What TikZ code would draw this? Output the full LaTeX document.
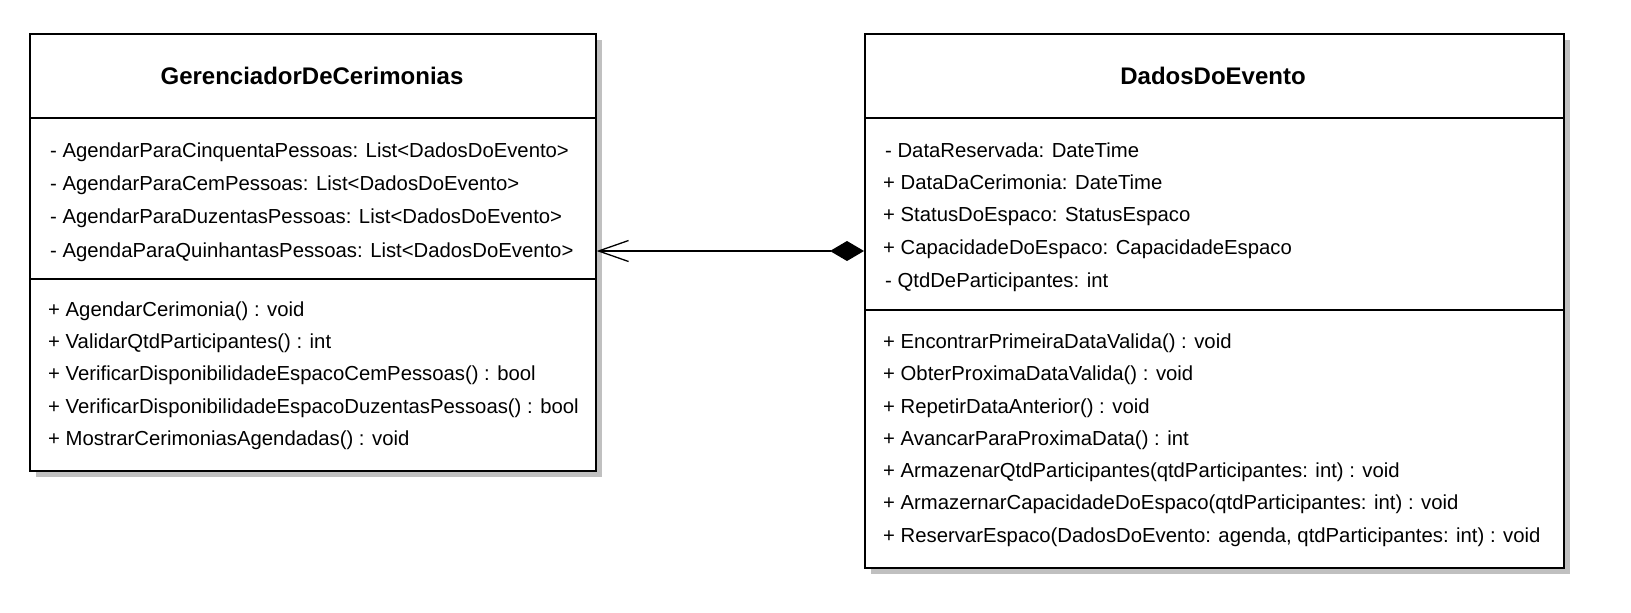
\documentclass[tikz,border=0pt]{standalone}
\usepackage{fontspec}
\setmainfont{Liberation Sans}
\usetikzlibrary{arrows.meta,positioning}

\definecolor{shadowgray}{RGB}{192,192,192}
\tikzset{
  classbox/.style={draw=black, line width=1.6pt, fill=white, anchor=north west},
  classname/.style={font=\fontsize{24}{28}\selectfont\bfseries},
  member/.style={anchor=west, text height=18pt, text depth=4pt, font=\fontsize{20.3}{24}\selectfont},
  assoc/.style={line width=1.4pt, {Straight Barb[length=30pt,width=21pt,line width=1.3pt]}-{Diamond[length=34pt,width=20pt]}}
}

\begin{document}
\begin{tikzpicture}[x=1pt,y=-1pt]
\tikzstyle{every node}+=[inner sep=0pt]
\useasboundingbox (0,0) rectangle (1631,613);
% shadows
\fill [shadowgray] (36,40) rectangle (602,477);
\fill [shadowgray] (871,40) rectangle (1570,574);
% GerenciadorDeCerimonias
\node [classbox, minimum width=566pt, minimum height=437pt] (ger) at (29,33) {};
\draw [line width=1.6pt] (ger.west |- 0,118) -- (ger.east |- 0,118);
\draw [line width=1.6pt] (ger.west |- 0,279) -- (ger.east |- 0,279);
\node [classname] (gerTitle) at (312,76) {GerenciadorDeCerimonias};
\node [member] (gerA1) at (50,150) {- AgendarParaCinquentaPessoas: List<DadosDoEvento>};
\node [member] (gerA2) at (50,183) {- AgendarParaCemPessoas: List<DadosDoEvento>};
\node [member] (gerA3) at (50,216) {- AgendarParaDuzentasPessoas: List<DadosDoEvento>};
\node [member] (gerA4) at (50,250) {- AgendaParaQuinhantasPessoas: List<DadosDoEvento>};
\node [member] (gerM1) at (48,309) {+ AgendarCerimonia() : void};
\node [member] (gerM2) at (48,341) {+ ValidarQtdParticipantes() : int};
\node [member] (gerM3) at (48,373) {+ VerificarDisponibilidadeEspacoCemPessoas() : bool};
\node [member] (gerM4) at (48,406) {+ VerificarDisponibilidadeEspacoDuzentasPessoas() : bool};
\node [member] (gerM5) at (48,438) {+ MostrarCerimoniasAgendadas() : void};
% DadosDoEvento
\node [classbox, minimum width=699pt, minimum height=534pt] (dados) at (864,33) {};
\draw [line width=1.6pt] (dados.west |- 0,118) -- (dados.east |- 0,118);
\draw [line width=1.6pt] (dados.west |- 0,310) -- (dados.east |- 0,310);
\node [classname] (dadosTitle) at (1213,76) {DadosDoEvento};
\node [member] (dadosA1) at (885,150) {- DataReservada: DateTime};
\node [member] (dadosA2) at (883,182) {+ DataDaCerimonia: DateTime};
\node [member] (dadosA3) at (883,214) {+ StatusDoEspaco: StatusEspaco};
\node [member] (dadosA4) at (883,247) {+ CapacidadeDoEspaco: CapacidadeEspaco};
\node [member] (dadosA5) at (885,280) {- QtdDeParticipantes: int};
\node [member] (dadosM1) at (883,341) {+ EncontrarPrimeiraDataValida() : void};
\node [member] (dadosM2) at (883,373) {+ ObterProximaDataValida() : void};
\node [member] (dadosM3) at (883,406) {+ RepetirDataAnterior() : void};
\node [member] (dadosM4) at (883,438) {+ AvancarParaProximaData() : int};
\node [member] (dadosM5) at (883,470) {+ ArmazenarQtdParticipantes(qtdParticipantes: int) : void};
\node [member] (dadosM6) at (883,502) {+ ArmazernarCapacidadeDoEspaco(qtdParticipantes: int) : void};
\node [member] (dadosM7) at (883,535) {+ ReservarEspaco(DadosDoEvento: agenda, qtdParticipantes: int) : void};
% composition
\draw [assoc] (ger.east |- 0,251) -- (dados.west |- 0,251);
\end{tikzpicture}
\end{document}
